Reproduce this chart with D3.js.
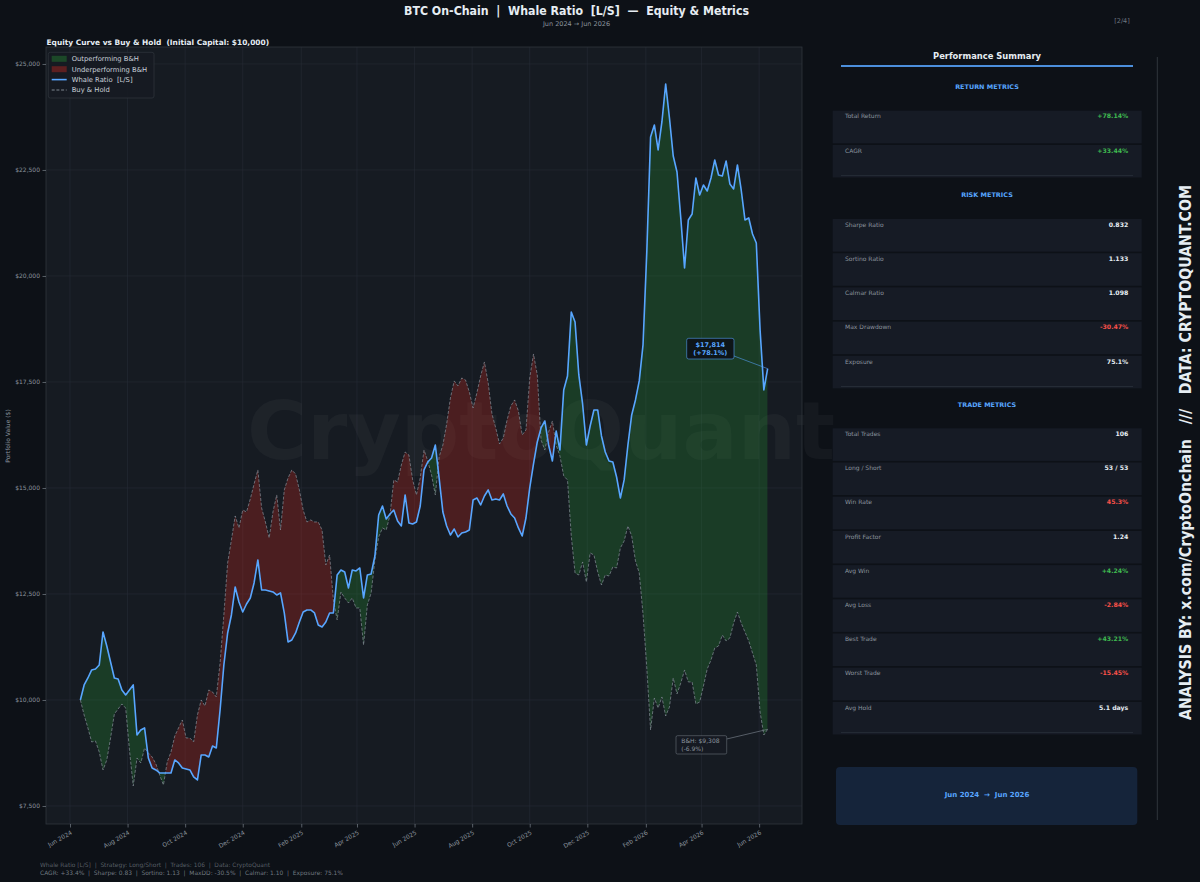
<!DOCTYPE html>
<html><head><meta charset="utf-8">
<script src="https://cdn.jsdelivr.net/npm/d3@7/dist/d3.min.js"></script>
<style>
body{margin:0;background:#0d1117;}
svg{display:block;font-family:'DejaVu Sans',sans-serif;}
text{white-space:pre;}
</style>
</head><body>
<svg id="c" width="1200" height="882"></svg>
<script>
// ---------------- DATA ----------------
const startDate = "2024-06-12";   // first observation
const stepDays = 4;               // spacing of observations
const strategy = [
10000,10354,10519,10708,10731,10825,11604,11274,10896,10519,
10495,10236,10118,10236,10354,9175,9292,9340,8632,8396,
8349,8278,8278,8278,8278,8585,8514,8396,8373,8349,
8184,8113,8703,8703,8656,8915,8868,9764,10825,11580,
12005,12665,12311,12075,12264,12406,12759,13302,12594,12594,
12571,12547,12476,12524,12052,11368,11415,11580,11840,12075,
12123,12123,12052,11769,11722,11840,12052,12052,12948,13066,
13019,12642,13066,13042,13113,12406,12948,12972,13396,14363,
14575,14269,14387,14481,14222,14104,14835,14175,14151,14198,
14575,15425,15613,15708,16014,15236,14434,14104,13892,14033,
13844,13939,13962,14009,14717,14764,14599,14811,14953,14717,
14741,14717,14859,14575,14387,14292,14057,13868,14292,15000,
15566,16085,16415,16580,16014,15637,16344,15896,17311,17642,
19151,18915,17665,16981,16014,16462,16840,16840,16226,15849,
15637,15613,15259,14764,15189,16014,16722,17076,17524,18373,
20566,23278,23561,22972,23632,24528,23726,22830,22453,21368,
20189,21321,21462,22311,21910,22146,22005,22311,22736,22382,
22359,22712,22170,22052,22618,22028,21321,21368,20991,20778,
18726,17311,17814
];
const buyHold = [
10000,9646,9340,9009,9033,8774,8349,8585,9104,9670,
9788,9906,9811,8821,7972,8632,8514,8868,8750,8656,
8491,8231,7995,8538,8774,9151,9340,9528,9104,9104,
9009,9646,10000,9858,10236,10189,10071,10873,12005,13231,
13774,14340,14057,14481,14434,14741,15094,15425,14528,14198,
13821,14434,14835,14009,14953,15236,15425,15330,14953,14481,
14198,14245,14198,14198,14009,13184,13420,12359,11887,12547,
12406,12288,12406,12170,12170,11297,12241,12524,13302,13844,
14057,14009,14363,15189,15142,15542,15849,15778,15189,14835,
15236,15896,15637,15307,14835,15731,16014,16509,17123,17524,
17406,17594,17547,17264,16887,17241,17642,17972,17476,16745,
16415,16038,16179,16604,16934,17076,16816,16250,16368,17594,
18160,17665,16132,15896,16321,16580,16014,15755,15283,15189,
13868,12995,12948,13255,12783,13467,13420,13019,12712,12948,
12925,13137,13113,13585,13750,14104,13868,13278,12995,12028,
10755,9292,10047,9811,10071,9623,9835,10519,10142,10401,
10708,10425,10425,9906,9953,10330,10731,10943,11226,11274,
11533,11392,11462,11816,12075,11816,11604,11392,11108,10825,
9717,9175,9308
];
const initialCapital = 10000;
const yLimits = [7075, 25400];
const yTicks = [7500,10000,12500,15000,17500,20000,22500,25000];
const xTickDates = ["2024-06-01","2024-08-01","2024-10-01","2024-12-01","2025-02-01","2025-04-01",
  "2025-06-01","2025-08-01","2025-10-01","2025-12-01","2026-02-01","2026-04-01","2026-06-01"];
const legendLabels = ["Outperforming B&H","Underperforming B&H","Whale Ratio  [L/S]","Buy & Hold"];

const returnLabels = ["Total Return","CAGR"];
const returnValues = ["+78.14%","+33.44%"];
const returnKinds  = ["pos","pos"];
const riskLabels = ["Sharpe Ratio","Sortino Ratio","Calmar Ratio","Max Drawdown","Exposure"];
const riskValues = ["0.832","1.133","1.098","-30.47%","75.1%"];
const riskKinds  = ["neu","neu","neu","neg","neu"];
const tradeLabels = ["Total Trades","Long / Short","Win Rate","Profit Factor","Avg Win","Avg Loss","Best Trade","Worst Trade","Avg Hold"];
const tradeValues = ["106","53 / 53","45.3%","1.24","+4.24%","-2.84%","+43.21%","-15.45%","5.1 days"];
const tradeKinds  = ["neu","neu","neg","neu","pos","neg","pos","neg","neu"];

const footer1 = "CAGR: +33.4%  |  Sharpe: 0.83  |  Sortino: 1.13  |  MaxDD: -30.5%  |  Calmar: 1.10  |  Exposure: 75.1%";
const footer2 = "Whale Ratio [L/S]  |  Strategy: Long/Short  |  Trades: 106  |  Data: CryptoQuant";

// ---------------- DRAW ----------------
const svg = d3.select('#c');
const W = 1200, H = 882;
const C = {bg:'#0d1117', ax:'#161b22', border:'#30363d', text:'#e6edf3', muted:'#8b949e',
  blue:'#58a6ff', green:'#3fb950', red:'#f85149'};
svg.append('rect').attr('width',W).attr('height',H).attr('fill',C.bg);

const M = {l:46, t:47, r:802, b:824};
const parse = d3.utcParse('%Y-%m-%d');
const t0 = parse(startDate);
const dates = strategy.map((_, i) => d3.utcDay.offset(t0, i * stepDays));
const ext = d3.extent(dates);
const span = ext[1] - ext[0];
const x = d3.scaleUtc().domain([new Date(+ext[0] - span*0.05), new Date(+ext[1] + span*0.05)]).range([M.l, M.r]);
const y = d3.scaleLinear().domain(yLimits).range([M.b, M.t]);
const data = dates.map((d, i) => ({d, s: strategy[i], b: buyHold[i]}));

// axes background
svg.append('rect').attr('x',M.l).attr('y',M.t).attr('width',M.r-M.l).attr('height',M.b-M.t)
  .attr('fill',C.ax);

// grid
const grid = svg.append('g').attr('stroke','#262c35').attr('stroke-width',0.6);
yTicks.forEach(v => grid.append('line').attr('x1',M.l).attr('x2',M.r).attr('y1',y(v)).attr('y2',y(v)));
xTickDates.forEach(s => grid.append('line').attr('y1',M.t).attr('y2',M.b).attr('x1',x(parse(s))).attr('x2',x(parse(s))));

// watermark
svg.append('text').attr('x',247).attr('y',459)
  .attr('font-size',80).attr('font-weight','bold').attr('fill','#ffffff').attr('fill-opacity',0.035)
  .attr('textLength',588).attr('lengthAdjust','spacingAndGlyphs')
  .text('CryptoQuant');

// clip to axes
const defs = svg.append('defs');
defs.append('clipPath').attr('id','axclip').append('rect')
  .attr('x',M.l).attr('y',M.t).attr('width',M.r-M.l).attr('height',M.b-M.t);
const areaAboveB = d3.area().x(d=>x(d.d)).y0(M.t).y1(d=>y(d.b));
const areaBelowB = d3.area().x(d=>x(d.d)).y0(M.b).y1(d=>y(d.b));
defs.append('clipPath').attr('id','clipAbove').append('path').attr('d', areaAboveB(data));
defs.append('clipPath').attr('id','clipBelow').append('path').attr('d', areaBelowB(data));

const plot = svg.append('g').attr('clip-path','url(#axclip)');
const greenFill = 'rgba(40,160,52,0.25)';
const redFill = 'rgba(200,40,30,0.30)';
// green: strategy above B&H
plot.append('path').attr('clip-path','url(#clipAbove)')
  .attr('d', d3.area().x(d=>x(d.d)).y0(M.b).y1(d=>y(d.s))(data)).attr('fill',greenFill);
// red: strategy below B&H
plot.append('path').attr('clip-path','url(#clipBelow)')
  .attr('d', d3.area().x(d=>x(d.d)).y0(M.t).y1(d=>y(d.s))(data)).attr('fill',redFill);

plot.append('path').attr('d', d3.line().x(d=>x(d.d)).y(d=>y(d.b))(data))
  .attr('fill','none').attr('stroke',C.muted).attr('stroke-opacity',0.75).attr('stroke-width',0.9)
  .attr('stroke-dasharray','3,1.7');
plot.append('path').attr('d', d3.line().x(d=>x(d.d)).y(d=>y(d.s))(data))
  .attr('fill','none').attr('stroke',C.blue).attr('stroke-width',1.6).attr('stroke-linejoin','round');

// border
svg.append('rect').attr('x',M.l).attr('y',M.t).attr('width',M.r-M.l).attr('height',M.b-M.t)
  .attr('fill','none').attr('stroke',C.border).attr('stroke-width',0.8);

// axes
const yAxis = svg.append('g').attr('transform',`translate(${M.l},0)`)
  .call(d3.axisLeft(y).tickValues(yTicks).tickFormat(d => '$' + d3.format(',')(d)).tickSize(3.5).tickPadding(2.5));
yAxis.select('.domain').remove();
yAxis.selectAll('line').attr('stroke',C.muted).attr('stroke-width',0.6);
yAxis.selectAll('text').attr('fill',C.muted).attr('font-size',6).attr('font-family','DejaVu Sans');

const xAxis = svg.append('g').attr('transform',`translate(0,${M.b})`)
  .call(d3.axisBottom(x).tickValues(xTickDates.map(parse)).tickFormat(d3.utcFormat('%b %Y')).tickSize(3.5));
xAxis.select('.domain').remove();
xAxis.selectAll('line').attr('stroke',C.muted).attr('stroke-width',0.6);
xAxis.selectAll('text').attr('fill',C.muted).attr('font-size',6).attr('font-family','DejaVu Sans')
  .attr('text-anchor','end').attr('x',0).attr('y',0).attr('dy','0.35em')
  .attr('transform','translate(1,8) rotate(-30)');

svg.append('text').attr('transform','translate(10,436) rotate(-90)').attr('text-anchor','middle')
  .attr('font-size',6).attr('fill',C.muted).text('Portfolio Value ($)');

// titles
svg.append('text').attr('x',576.5).attr('y',14.5).attr('text-anchor','middle').attr('font-size',12.5)
  .attr('font-weight','bold').attr('fill',C.text).attr('textLength',345).attr('lengthAdjust','spacingAndGlyphs')
  .text('BTC On-Chain  |  Whale Ratio  [L/S]  —  Equity & Metrics');
svg.append('text').attr('x',576.5).attr('y',25.5).attr('text-anchor','middle').attr('font-size',6.5)
  .attr('fill',C.muted).text('Jun 2024 → Jun 2026');
svg.append('text').attr('x',1122).attr('y',23).attr('text-anchor','middle').attr('font-size',6.5)
  .attr('fill','#6e7681').text('[2/4]');
svg.append('text').attr('x',46.5).attr('y',44.5).attr('font-size',7.5).attr('font-weight','bold')
  .attr('fill',C.text).attr('textLength',222.6).attr('lengthAdjust','spacingAndGlyphs')
  .text('Equity Curve vs Buy & Hold  (Initial Capital: $10,000)');

// legend
const lg = svg.append('g');
lg.append('rect').attr('x',48.3).attr('y',52.3).attr('width',105.7).attr('height',45.7).attr('rx',2)
  .attr('fill',C.ax).attr('fill-opacity',0.9).attr('stroke',C.border).attr('stroke-width',0.7);
const rowsY = [58.8, 69.2, 79.6, 90];
lg.append('rect').attr('x',51.7).attr('y',rowsY[0]-3).attr('width',15).attr('height',6).attr('fill','rgba(40,160,52,0.35)');
lg.append('rect').attr('x',51.7).attr('y',rowsY[1]-3).attr('width',15).attr('height',6).attr('fill','rgba(200,40,30,0.40)');
lg.append('line').attr('x1',51.7).attr('x2',66.7).attr('y1',rowsY[2]).attr('y2',rowsY[2]).attr('stroke',C.blue).attr('stroke-width',1.6);
lg.append('line').attr('x1',51.7).attr('x2',66.7).attr('y1',rowsY[3]).attr('y2',rowsY[3]).attr('stroke',C.muted)
  .attr('stroke-width',0.9).attr('stroke-dasharray','3,1.7');
legendLabels.forEach((t,i) => lg.append('text').attr('x',71.7).attr('y',rowsY[i]).attr('dy','0.35em')
  .attr('font-size',6.8).attr('fill','#c9d1d9').text(t));

// annotations
const last = data[data.length-1];
const pct = v => (v/initialCapital - 1) * 100;
const fmtPct = v => (v >= 0 ? '+' : '') + v.toFixed(1) + '%';
const fmtUsd = v => '$' + d3.format(',')(Math.round(v));
svg.append('line').attr('x1',734).attr('y1',356).attr('x2',x(last.d)).attr('y2',y(last.s))
  .attr('stroke',C.blue).attr('stroke-opacity',0.8).attr('stroke-width',0.7);
svg.append('rect').attr('x',686.7).attr('y',338.3).attr('width',47.3).attr('height',20.7).attr('rx',2)
  .attr('fill',C.bg).attr('fill-opacity',0.9).attr('stroke',C.blue).attr('stroke-opacity',0.7).attr('stroke-width',0.8);
[fmtUsd(last.s), '(' + fmtPct(pct(last.s)) + ')'].forEach((t,i) =>
  svg.append('text').attr('x',710.3).attr('y',344.3 + i*8.2).attr('dy','0.35em').attr('text-anchor','middle')
    .attr('font-size',6.5).attr('font-weight','bold').attr('fill',C.blue).text(t));

svg.append('line').attr('x1',726.7).attr('y1',739).attr('x2',x(last.d)).attr('y2',y(last.b))
  .attr('stroke',C.muted).attr('stroke-opacity',0.8).attr('stroke-width',0.7);
svg.append('rect').attr('x',676).attr('y',735.7).attr('width',50.7).attr('height',18.3).attr('rx',1.5)
  .attr('fill',C.ax).attr('fill-opacity',0.9).attr('stroke',C.muted).attr('stroke-opacity',0.6).attr('stroke-width',0.7);
['B&H: ' + fmtUsd(last.b), '(' + fmtPct(pct(last.b)) + ')'].forEach((t,i) =>
  svg.append('text').attr('x',681.3).attr('y',741.2 + i*7.4).attr('dy','0.35em')
    .attr('font-size',6).attr('fill',C.muted).text(t));

// footer
svg.append('text').attr('x',40).attr('y',867).attr('font-size',6).attr('fill',C.muted).attr('fill-opacity',0.6)
  .attr('textLength',230).attr('lengthAdjust','spacingAndGlyphs').text(footer2);
svg.append('text').attr('x',40).attr('y',875).attr('font-size',6).attr('fill',C.muted).attr('fill-opacity',0.8)
  .attr('textLength',303).attr('lengthAdjust','spacingAndGlyphs').text(footer1);

// ---------------- RIGHT PANEL ----------------
const P = {x0:832.7, x1:1141.7, lx:845, vx:1128.3, cx:987};
svg.append('text').attr('x',P.cx).attr('y',56).attr('dy','0.35em').attr('text-anchor','middle')
  .attr('font-size',8.5).attr('font-weight','bold').attr('fill',C.text)
  .attr('textLength',108).attr('lengthAdjust','spacingAndGlyphs').text('Performance Summary');
svg.append('line').attr('x1',841).attr('x2',1133).attr('y1',66).attr('y2',66)
  .attr('stroke',C.blue).attr('stroke-width',1.8).attr('stroke-opacity',0.85);

const kindColor = k => k === 'pos' ? C.green : k === 'neg' ? C.red : C.text;
function group(title, titleY, titleW, top, labels, values, kinds){
  svg.append('text').attr('x',P.cx).attr('y',titleY).attr('dy','0.35em').attr('text-anchor','middle')
    .attr('font-size',6.3).attr('font-weight','bold').attr('fill',C.blue)
    .attr('textLength',titleW).attr('lengthAdjust','spacingAndGlyphs').text(title);
  const rh = 34.2;
  labels.forEach((lab, i) => {
    const ty = top + i*rh;
    svg.append('rect').attr('x',P.x0).attr('y',ty).attr('width',P.x1-P.x0).attr('height',rh-1.6)
      .attr('fill','#161b25');
    svg.append('text').attr('x',P.lx).attr('y',ty+5.6).attr('dy','0.35em').attr('font-size',6)
      .attr('fill',C.muted).text(lab);
    svg.append('text').attr('x',P.vx).attr('y',ty+5.6).attr('dy','0.35em').attr('text-anchor','end')
      .attr('font-size',6.2).attr('font-weight','bold').attr('fill',kindColor(kinds[i])).text(values[i]);
  });
  const by = top + labels.length*rh - 3.5;
  svg.append('line').attr('x1',841).attr('x2',1133).attr('y1',by).attr('y2',by)
    .attr('stroke','#2a313b').attr('stroke-width',0.8);
}
group('RETURN METRICS', 87, 63.7, 110.7, returnLabels, returnValues, returnKinds);
group('RISK METRICS', 194.3, 51.7, 219, riskLabels, riskValues, riskKinds);
group('TRADE METRICS', 404.3, 58.3, 428.3, tradeLabels, tradeValues, tradeKinds);

svg.append('rect').attr('x',836).attr('y',767).attr('width',301.3).attr('height',58).attr('rx',4)
  .attr('fill','#15243a');
svg.append('text').attr('x',P.cx).attr('y',795).attr('dy','0.35em').attr('text-anchor','middle')
  .attr('font-size',7).attr('font-weight','bold').attr('fill',C.blue).text('Jun 2024  →  Jun 2026');

// right credit
svg.append('line').attr('x1',1157.3).attr('x2',1157.3).attr('y1',57).attr('y2',820)
  .attr('stroke',C.border).attr('stroke-width',1);
svg.append('text').attr('transform','translate(1191,452.5) rotate(-90)').attr('text-anchor','middle')
  .attr('font-size',16).attr('font-weight','bold').attr('fill',C.text)
  .attr('font-family',"'Liberation Sans Narrow','DejaVu Sans Condensed','DejaVu Sans',sans-serif")
  .attr('textLength',535).attr('lengthAdjust','spacingAndGlyphs')
  .text('ANALYSIS BY: x.com/CryptoOnchain   ///   DATA: CRYPTOQUANT.COM');
</script>
</body></html>
